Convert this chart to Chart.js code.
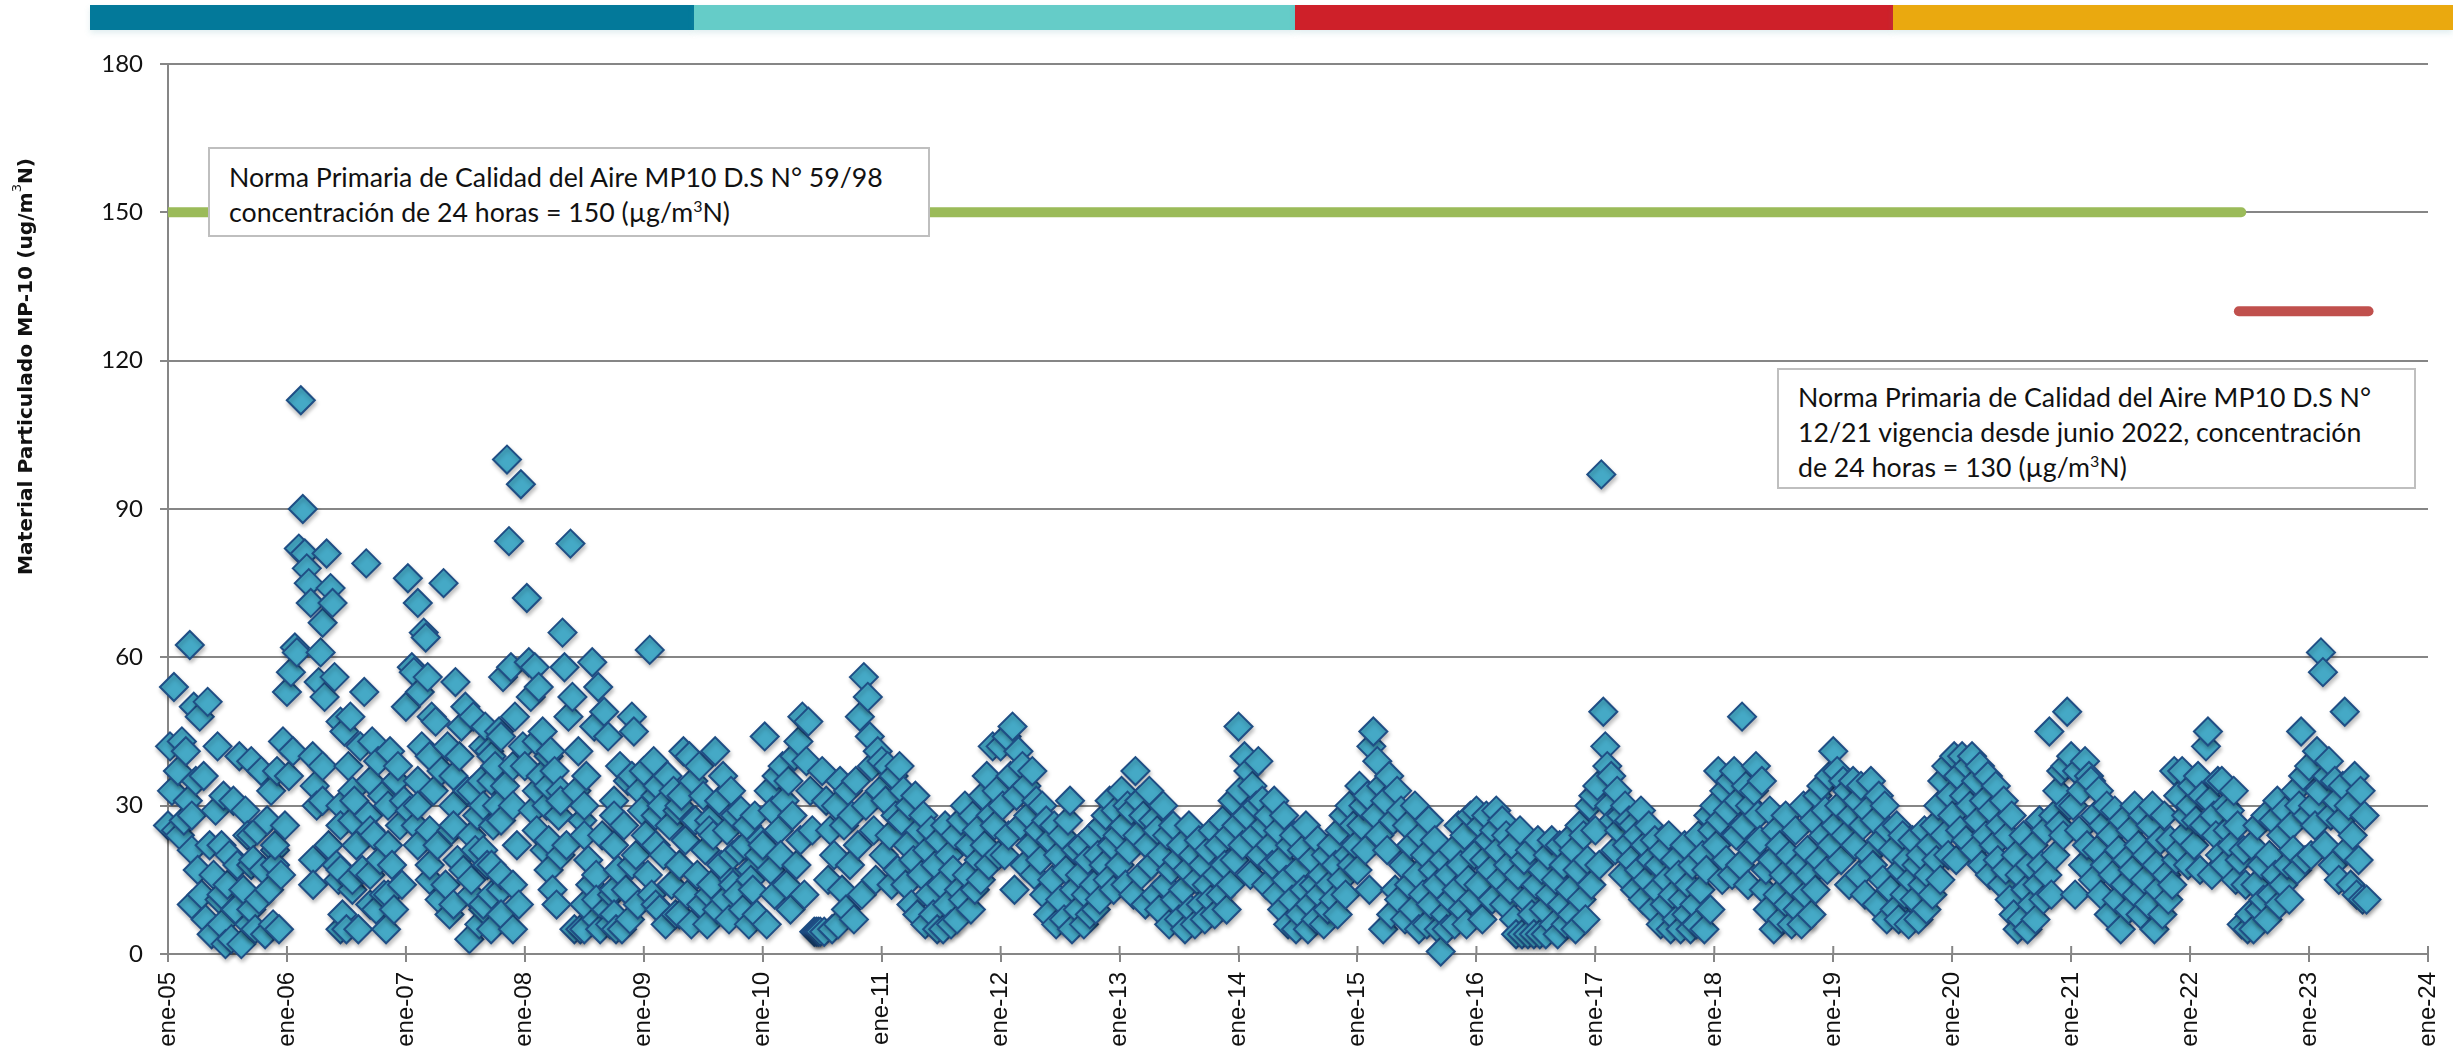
<!DOCTYPE html>
<html lang="es">
<head>
<meta charset="utf-8">
<title>Material Particulado MP-10</title>
<script src="https://cdn.jsdelivr.net/npm/chart.js@4"></script>
<style>
  html, body { margin: 0; padding: 0; background: #fff; }
  #lienzo { position: relative; width: 2453px; height: 1050px; overflow: hidden; }
  #chart { position: absolute; left: 0; top: 0; }
  .banda { position: absolute; top: 5px; height: 25px; box-shadow: 0 3px 6px rgba(90, 160, 170, .18); }
  .nota { position: absolute; box-sizing: border-box; background: #fff; border: 2px solid #bfbfbf;
          font-family: Lato, sans-serif; font-size: 26.7px; line-height: 35px; color: #111; white-space: nowrap; }
  .nota sup { font-size: 16px; line-height: 0; }
  #tituloY { position: absolute; left: 10px; top: 156px; height: 420px; writing-mode: vertical-rl;
             transform: rotate(180deg); font-family: "DejaVu Sans", sans-serif; font-weight: bold;
             font-size: 20.2px; line-height: 30px; color: #111; white-space: nowrap; text-align: center; }
  #tituloY sup { font-size: 13px; line-height: 0; font-weight: normal; }
</style>
</head>
<body>
<div id="lienzo">
  <canvas id="chart" width="2453" height="1050"></canvas>
  <div class="banda" style="left:90px;width:604px;background:#03799a"></div>
  <div class="banda" style="left:694px;width:601px;background:#65ccc8"></div>
  <div class="banda" style="left:1295px;width:598px;background:#ce2029"></div>
  <div class="banda" style="left:1893px;width:560px;background:#eaa90f"></div>
  <div id="tituloY">Material Particulado MP-10 (ug/m<sup>3</sup>N)</div>
  <div class="nota" style="left:208px;top:147px;width:722px;height:90px;padding:11px 0 0 19px">Norma Primaria de Calidad del Aire MP10 D.S N° 59/98<br>concentración de 24 horas = 150 (µg/m<sup>3</sup>N)</div>
  <div class="nota" style="left:1777px;top:368px;width:639px;height:121px;padding:10px 0 0 19px">Norma Primaria de Calidad del Aire MP10 D.S N°<br>12/21 vigencia desde junio 2022, concentración<br>de 24 horas = 130 (µg/m<sup>3</sup>N)</div>
</div>
<script>
// ticks
const etiquetasX = ['ene-05','ene-06','ene-07','ene-08','ene-09','ene-10','ene-11','ene-12','ene-13','ene-14','ene-15','ene-16','ene-17','ene-18','ene-19','ene-20','ene-21','ene-22','ene-23','ene-24'];
const anioInicial = 2005;
const anioFinal = 2024;
const muestrasPorAnio = 60;

// normas (fecha en años, valor en ug/m3N)
const normaAntiguaX = [2005, 2022.43];
const normaAntiguaY = [150, 150];
const normaNuevaX = [2022.41, 2023.5];
const normaNuevaY = [130, 130];

// MP-10, una fila = 10 muestras
const mp2005 = [26,42,33,54,25,37,24,43,27,41,
  31,62.5,21,50,35,17,48,12,36,7,
  51,22,4,16,29,42,11,6,32,2,
  14,20,3,31,9,18,40,2,13,29,
  24,6,39,19,5,25,11,37,17,4,
  27,13,33,6,21,37,5,16,43,26];
const mp2006 = [53,36,57,41,62,61,82,112,90,81,
  78,75,71,40,34,30,55,61,67,52,
  81,22,74,71,56,18,15,47,8,45,
  5,38,48,13,31,22,5,42,17,53,
  79,28,10,43,24,9,39,19,32,12,
  5,30,41,18,9,35,38,26,14,31];
const mp2007 = [50,76,29,58,57,26,71,53,42,65,
  64,56,15,48,33,47,22,11,37,75,
  14,42,8,25,30,55,19,40,46,17,
  50,33,3,12,48,21,28,6,35,9,
  46,18,41,5,26,38,30,45,13,56,
  34,100,83.5,58,5,48,22,10,95,42];
const mp2008 = [38,72,59,52,29,58,43,54,36,45,
  21,30,17,41,13,37,10,28,33,65,
  58,22,48,83,52,5,33,41,5,27,
  5,36,19,14,59,46,7,54,5,24,
  49,9,44,6,12,31,5,17,38,5,
  26,13,35,7,48,45,20,10,33,29];
const mp2009 = [37,24,16,61.5,12,39,28,34,9,30,
  20,6,36,26,14,33,8,29,18,32,
  41,23,12,40,6,35,27,16,38,10,
  32,21,6,27,14,24,41,9,31,18,
  36,11,25,7,33,15,28,12,21,29,
  9,22,26,6,17,13,28,8,20,23];
const mp2010 = [22,44,6,33,17,29,12,36,25,20,
  38,31,14,35,9,28,40,18,43,23,
  48,12,39,47,33,25,4.5,4.5,4.5,4.5,
  37,4.5,31,15,25,5,20,30,6,35,
  13,26,9,33,18,28,7,35,22,48,
  12,56,30,52,44,38,25,15,41,33];
const mp2011 = [39,20,31,38,24,14,36,28,17,38,
  27,33,14,22,30,10,19,32,8,25,
  16,28,6,21,12,25,8,18,5,23,
  14,5,26,10,20,6,17,24,7,13,
  27,11,30,16,22,9,28,13,25,19,
  15,32,22,36,18,28,42,26,33,20];
const mp2012 = [42,30,20,44,24,36,46,13,32,41,
  26,38,18,34,28,22,37,16,31,25,
  19,30,12,27,8,23,15,26,6,20,
  11,24,7,17,27,31,5,13,21,9,
  16,22,6,12,19,8,24,14,9,20,
  11,26,18,28,15,31,22,13,29,24];
const mp2013 = [18,33,26,14,30,21,29,12,37,24,
  31,16,28,10,22,33,18,27,12,25,
  9,20,30,14,24,6,17,26,11,19,
  7,22,13,5,17,26,9,20,6,15,
  23,10,18,7,14,21,11,25,8,16,
  22,12,27,18,9,24,14,31,19,26];
const mp2014 = [46,33,22,40,28,37,16,34,24,30,
  39,20,31,26,14,28,22,18,31,12,
  25,19,9,28,15,6,22,11,24,5,
  17,8,21,13,26,5,10,19,14,7,
  23,12,16,6,20,9,14,22,11,18,
  8,25,15,28,12,20,30,18,26,22];
const mp2015 = [17,34,26,30,21,32,13,42,45,28,
  39,24,34,5,31,21,36,8,27,13,
  33,11,29,18,7,26,14,22,9,30,
  16,5,24,12,20,6,27,10,17,23,
  14,5,0.5,19,8,5,16,11,21,6,
  13,26,18,9,24,6,15,28,11,20];
const mp2016 = [29,14,26,7,19,28,23,17,11,25,
  29,21,15,27,10,24,18,13,22,7,
  4,16,25,4,19,11,4,21,8,4,
  14,23,4,17,9,4,20,12,23,6,
  15,4,22,10,18,6,23,13,8,21,
  5,17,26,11,24,7,19,30,14,32];
const mp2017 = [25,34,18,97,49,42,38,30,36,27,
  21,33,25,28,16,30,22,27,19,26,
  13,24,17,29,11,22,15,26,19,9,
  23,13,18,6,21,10,15,24,5,12,
  19,7,16,5,11,22,8,14,5,18,
  10,6,24,13,20,5,17,28,9,25];
const mp2018 = [30,22,37,27,15,33,19,29,35,16,
  37,24,31,18,48,26,34,14,30,21,
  33,38,28,23,35,13,17,9,29,19,
  5,25,12,22,7,16,28,10,20,6,
  14,25,9,18,6,30,12,21,16,8,
  27,13,32,19,34,24,29,17,36,22];
const mp2019 = [41,26,37,30,19,35,24,33,14,28,
  35,22,31,16,34,26,12,29,20,35,
  18,27,10,32,23,15,30,7,25,13,
  21,9,26,7,17,24,12,19,6,15,
  23,11,18,7,20,14,25,9,16,22,
  12,26,19,30,15,35,24,38,20,32];
const mp2020 = [28,40,19,36,25,40,32,23,38,30,
  40,21,35,27,38,18,31,24,36,16,
  29,22,34,19,26,14,31,17,24,11,
  28,8,20,5,16,7,24,13,5,18,
  10,22,7,14,27,18,11,25,16,45,
  12,28,20,33,26,37,24,38,49,30];
const mp2021 = [40,30,12,37,25,33,18,39,22,36,
  35,15,28,21,33,12,26,18,30,8,
  24,16,29,11,21,5,27,14,19,9,
  25,17,30,12,22,8,28,15,20,10,
  26,30,5,18,13,23,8,28,16,11,
  23,14,37,19,32,21,37,24,28,18];
const mp2022 = [30,34,22,27,36,17,32,26,42,45,
  31,16,28,24,35,20,35,18,30,25,
  29,22,33,15,26,19,6,21,14,5,
  8,22,5,14,26,9,18,11,28,7,
  20,12,27,16,31,10,24,14,29,18,
  11,26,21,33,17,30,45,36,19,28];
const mp2023 = [38,20,30,26,41,33,61,57,22,36,
  39,28,18,35,31,15,27,34,49,21,
  30,14,24,36,12,19,33,11,28,11];

// muestras adicionales de 2005-2009, donde la nube es mas densa
const extraFecha = [2005.2,2005.2,2005.45,2005.45,2005.7,2005.7,2005.7,2005.9,2005.9,
  2006.22,2006.22,2006.3,2006.3,2006.45,2006.45,2006.45,2006.45,2006.55,2006.55,2006.55,2006.7,2006.7,2006.7,2006.85,2006.85,
  2007.1,2007.1,2007.1,2007.2,2007.2,2007.2,2007.4,2007.4,2007.4,2007.55,2007.55,2007.55,2007.65,2007.65,2007.65,2007.65,2007.72,2007.72,2007.72,2007.72,2007.8,2007.8,2007.8,2007.8,2007.9,2007.9,2007.9,
  2008.1,2008.1,2008.2,2008.2,2008.2,2008.3,2008.3,2008.5,2008.5,2008.5,2008.6,2008.6,2008.75,2008.75,2008.75,2008.75,2008.9,2008.9,
  2009.1,2009.1,2009.1,2009.3,2009.3,2009.3,2009.55,2009.55,2009.75,2009.75,2009.9];
const extraValor = [28,10,22,12,24,9,18,18,22,
  19,14,38,31,30,26,17,5,33,27,15,35,25,16,22,12,
  35,30,22,40,25,18,36,26,10,24,33,15,42,30,21,10,40,35,18,12,44,27,16,8,38,30,14,
  33,25,40,34,23,31,20,30,24,10,16,11,28,22,13,8,36,18,
  32,22,10,30,18,8,25,12,20,14,15];

const anios = [mp2005,mp2006,mp2007,mp2008,mp2009,mp2010,mp2011,mp2012,mp2013,mp2014,mp2015,mp2016,mp2017,mp2018,mp2019,mp2020,mp2021,mp2022,mp2023];

// puntos del scatter: muestreo regular dentro de cada año, mas los adicionales
const puntosMP = [];
anios.forEach((valores, a) => {
    valores.forEach((v, i) => {
        puntosMP.push({ x: anioInicial + a + i / muestrasPorAnio, y: v });
    });
});
extraFecha.forEach((x, i) => puntosMP.push({ x: x, y: extraValor[i] }));
puntosMP.sort((p, q) => p.x - q.x);

const COLOR_EJE = '#868686';

// sombra de los rombos y marcas del eje X hacia adentro
const detalles = {
    id: 'detalles',
    beforeDatasetsDraw(chart) {
        const { ctx, scales } = chart;
        ctx.save();
        ctx.strokeStyle = COLOR_EJE;
        ctx.lineWidth = 2;
        scales.x.ticks.forEach(t => {
            const px = scales.x.getPixelForValue(t.value);
            ctx.beginPath();
            ctx.moveTo(px, scales.y.bottom);
            ctx.lineTo(px, scales.y.bottom - 8);
            ctx.stroke();
        });
        ctx.restore();
    },
    beforeDatasetDraw(chart, args) {
        if (args.index === 0) {
            chart.ctx.save();
            chart.ctx.shadowColor = 'rgba(0,0,0,0.25)';
            chart.ctx.shadowBlur = 4;
            chart.ctx.shadowOffsetX = 1;
            chart.ctx.shadowOffsetY = 3;
        }
    },
    afterDatasetDraw(chart, args) {
        if (args.index === 0) chart.ctx.restore();
    }
};

new Chart(document.getElementById('chart'), {
    type: 'scatter',
    plugins: [detalles],
    data: {
        datasets: [
            {
                label: 'MP-10',
                data: puntosMP,
                pointStyle: 'rectRot',
                pointRadius: 14,
                backgroundColor: '#45a9c6',
                borderColor: '#1f4e85',
                borderWidth: 2,
                clip: false,
                order: 1
            },
            {
                label: 'Norma D.S 59/98',
                data: normaAntiguaX.map((x, i) => ({ x: x, y: normaAntiguaY[i] })),
                showLine: true,
                borderColor: '#9bbb59',
                borderWidth: 10,
                borderCapStyle: 'round',
                pointRadius: 0,
                order: 2
            },
            {
                label: 'Norma D.S 12/21',
                data: normaNuevaX.map((x, i) => ({ x: x, y: normaNuevaY[i] })),
                showLine: true,
                borderColor: '#c0504d',
                borderWidth: 10,
                borderCapStyle: 'round',
                pointRadius: 0,
                order: 2
            }
        ]
    },
    options: {
        responsive: false,
        animation: false,
        layout: { padding: { top: 64, right: 25, bottom: 0, left: 0 } },
        plugins: {
            legend: { display: false },
            title: { display: false },
            tooltip: { enabled: false }
        },
        scales: {
            x: {
                type: 'linear',
                min: anioInicial,
                max: anioFinal,
                afterFit(scale) {
                    scale.height = 96;
                    scale.paddingRight = 0;
                    scale.paddingLeft = 0;
                },
                border: { color: COLOR_EJE, width: 2 },
                grid: { drawOnChartArea: false, color: COLOR_EJE, lineWidth: 2, tickLength: 8 },
                ticks: {
                    stepSize: 1,
                    autoSkip: false,
                    maxRotation: 90,
                    minRotation: 90,
                    padding: 10,
                    color: '#111',
                    font: { family: '"Liberation Sans", sans-serif', size: 24 },
                    callback: v => etiquetasX[v - anioInicial]
                }
            },
            y: {
                min: 0,
                max: 180,
                afterFit(scale) { scale.width = 168; },
                border: { color: COLOR_EJE, width: 2 },
                grid: { color: COLOR_EJE, lineWidth: 2, tickLength: 8 },
                ticks: {
                    stepSize: 30,
                    padding: 17,
                    color: '#111',
                    font: { family: 'Lato, sans-serif', size: 24 }
                }
            }
        }
    }
});
</script>
</body>
</html>
